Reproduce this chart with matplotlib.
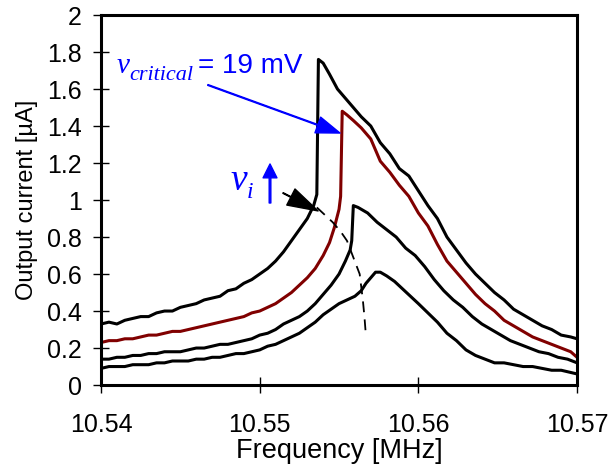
"""Resonator output current vs frequency near the critical drive."""

import matplotlib

matplotlib.use("Agg")
import matplotlib.pyplot as plt

plt.rcParams["font.family"] = ["Liberation Sans", "DejaVu Sans"]

# top curve (largest drive)
f1 = [10.5400, 10.5405, 10.5410, 10.5415, 10.5420, 10.5425, 10.5430, 10.5435, 10.5440, 10.5445,
      10.5450, 10.5455, 10.5460, 10.5465, 10.5470, 10.5475, 10.5480, 10.5485, 10.5490, 10.5495,
      10.5500, 10.5505, 10.5510, 10.5515, 10.5520, 10.5525, 10.5530, 10.5534, 10.5536, 10.5537,
      10.5540, 10.5544, 10.5549, 10.5554, 10.5559, 10.5564, 10.5570, 10.5576, 10.5582, 10.5588,
      10.5594, 10.5600, 10.5606, 10.5612, 10.5618, 10.5624, 10.5630, 10.5636, 10.5642, 10.5648,
      10.5654, 10.5660, 10.5666, 10.5672, 10.5678, 10.5684, 10.5690, 10.5696, 10.5700]
i1 = [0.33, 0.34, 0.33, 0.35, 0.36, 0.37, 0.37, 0.39, 0.40, 0.40,
      0.42, 0.43, 0.44, 0.46, 0.47, 0.48, 0.51, 0.52, 0.55, 0.57,
      0.60, 0.63, 0.67, 0.72, 0.78, 0.84, 0.90, 0.97, 1.03, 1.76,
      1.74, 1.68, 1.60, 1.55, 1.50, 1.45, 1.40, 1.31, 1.25, 1.17,
      1.13, 1.05, 0.97, 0.90, 0.80, 0.73, 0.66, 0.60, 0.55, 0.50,
      0.46, 0.41, 0.38, 0.35, 0.32, 0.30, 0.27, 0.26, 0.25]

# critical drive (red)
f2 = [10.5400, 10.5405, 10.5410, 10.5415, 10.5420, 10.5425, 10.5430, 10.5435, 10.5440, 10.5445,
      10.5450, 10.5455, 10.5460, 10.5465, 10.5470, 10.5475, 10.5480, 10.5485, 10.5490, 10.5495,
      10.5500, 10.5505, 10.5510, 10.5515, 10.5520, 10.5525, 10.5530, 10.5535, 10.5540, 10.5544,
      10.5547, 10.5550, 10.5551, 10.5552, 10.5555, 10.5559, 10.5564, 10.5570, 10.5576, 10.5582,
      10.5588, 10.5594, 10.5600, 10.5606, 10.5612, 10.5618, 10.5624, 10.5630, 10.5636, 10.5642,
      10.5648, 10.5654, 10.5660, 10.5666, 10.5672, 10.5678, 10.5684, 10.5690, 10.5696, 10.5700]
i2 = [0.23, 0.24, 0.24, 0.25, 0.25, 0.26, 0.27, 0.27, 0.28, 0.29,
      0.29, 0.30, 0.31, 0.32, 0.33, 0.34, 0.35, 0.36, 0.37, 0.39,
      0.40, 0.42, 0.44, 0.47, 0.50, 0.54, 0.58, 0.63, 0.70, 0.77,
      0.85, 0.95, 1.02, 1.48, 1.46, 1.43, 1.39, 1.33, 1.21, 1.15,
      1.08, 1.02, 0.93, 0.86, 0.76, 0.67, 0.61, 0.55, 0.49, 0.44,
      0.40, 0.35, 0.32, 0.29, 0.26, 0.24, 0.22, 0.20, 0.18, 0.15]

f3 = [10.5400, 10.5405, 10.5410, 10.5415, 10.5420, 10.5425, 10.5430, 10.5435, 10.5440, 10.5445,
      10.5450, 10.5455, 10.5460, 10.5465, 10.5470, 10.5475, 10.5480, 10.5485, 10.5490, 10.5495,
      10.5500, 10.5505, 10.5510, 10.5515, 10.5520, 10.5525, 10.5530, 10.5535, 10.5540, 10.5545,
      10.5550, 10.5554, 10.5557, 10.5558, 10.5559, 10.5562, 10.5568, 10.5574, 10.5580, 10.5586,
      10.5592, 10.5598, 10.5604, 10.5610, 10.5616, 10.5622, 10.5628, 10.5634, 10.5640, 10.5646,
      10.5652, 10.5658, 10.5664, 10.5670, 10.5676, 10.5682, 10.5688, 10.5694, 10.5700]
i3 = [0.14, 0.14, 0.15, 0.15, 0.16, 0.16, 0.17, 0.17, 0.18, 0.18,
      0.18, 0.19, 0.20, 0.20, 0.21, 0.22, 0.22, 0.23, 0.24, 0.25,
      0.27, 0.28, 0.30, 0.33, 0.35, 0.37, 0.40, 0.44, 0.49, 0.54,
      0.60, 0.67, 0.73, 0.78, 0.97, 0.96, 0.93, 0.88, 0.84, 0.80,
      0.74, 0.70, 0.64, 0.57, 0.51, 0.46, 0.42, 0.37, 0.33, 0.30,
      0.27, 0.24, 0.22, 0.20, 0.18, 0.17, 0.15, 0.14, 0.12]

f4 = [10.5400, 10.5405, 10.5410, 10.5415, 10.5420, 10.5425, 10.5430, 10.5435, 10.5440, 10.5445,
      10.5450, 10.5455, 10.5460, 10.5465, 10.5470, 10.5475, 10.5480, 10.5485, 10.5490, 10.5495,
      10.5500, 10.5505, 10.5510, 10.5515, 10.5520, 10.5525, 10.5530, 10.5535, 10.5540, 10.5545,
      10.5550, 10.5555, 10.5560, 10.5564, 10.5567, 10.5570, 10.5573, 10.5576, 10.5580, 10.5585,
      10.5590, 10.5595, 10.5600, 10.5606, 10.5612, 10.5618, 10.5624, 10.5630, 10.5636, 10.5642,
      10.5648, 10.5654, 10.5660, 10.5666, 10.5672, 10.5678, 10.5684, 10.5690, 10.5695, 10.5700]
i4 = [0.09, 0.10, 0.10, 0.10, 0.11, 0.11, 0.11, 0.12, 0.12, 0.13,
      0.13, 0.13, 0.14, 0.14, 0.15, 0.15, 0.16, 0.17, 0.17, 0.18,
      0.19, 0.21, 0.22, 0.24, 0.26, 0.28, 0.31, 0.34, 0.38, 0.41,
      0.44, 0.46, 0.48, 0.51, 0.55, 0.58, 0.61, 0.61, 0.59, 0.56,
      0.52, 0.48, 0.44, 0.39, 0.34, 0.28, 0.24, 0.19, 0.16, 0.14,
      0.12, 0.12, 0.11, 0.10, 0.10, 0.09, 0.08, 0.08, 0.07, 0.06]

# backbone (dashed)
fb = [10.5536, 10.5541, 10.5546, 10.5551, 10.5555, 10.5559, 10.5563, 10.5565, 10.5566, 10.5567]
ib = [0.96, 0.92, 0.88, 0.83, 0.78, 0.69, 0.60, 0.46, 0.37, 0.26]

xticks = [10.54, 10.55, 10.56, 10.57]
yticks = [0, 0.2, 0.4, 0.6, 0.8, 1, 1.2, 1.4, 1.6, 1.8, 2]

fig = plt.figure(figsize=(6.1, 4.69), dpi=100)
ax = fig.add_axes([0.1656, 0.179, 0.7804, 0.789])

lw = 2.2
ax.plot(f4, i4, color="black", lw=lw)
ax.plot(f3, i3, color="black", lw=lw)
ax.plot(f2, i2, color="#800000", lw=lw)
ax.plot(f1, i1, color="black", lw=lw)
ax.plot(fb, ib, color="black", lw=1.3, dashes=(6, 4))

ax.set_xlim(10.54, 10.57)
ax.set_ylim(0, 2)
ax.set_xticks(xticks)
ax.set_xticklabels([f"{v:.2f}" for v in xticks])
ax.set_yticks(yticks)
ax.set_yticklabels([f"{v:g}" for v in yticks])
ax.tick_params(direction="inout", length=12, width=1, labelsize=18)
ax.tick_params(axis="x", pad=14)
ax.tick_params(axis="y", pad=8)
for s in ax.spines.values():
    s.set_linewidth(2.2)

ax.set_xlabel("Frequency [MHz]", fontsize=19.5, labelpad=1)
ax.set_ylabel("Output current [µA]", fontsize=17, labelpad=6)

serif = ["Liberation Serif", "DejaVu Serif"]
blue = "#0000ff"
# v_critical = 19 mV
ax.text(10.54101, 1.686, "v", color=blue, fontsize=21, style="italic",
        family=serif, va="baseline")
ax.text(10.54176, 1.649, "critical", color=blue, fontsize=16, style="italic",
        family=serif, va="baseline")
ax.text(10.54611, 1.686, "= 19 mV", color=blue, fontsize=20, va="baseline")
ax.annotate("", xy=(10.55506, 1.362), xytext=(10.54673, 1.622),
            arrowprops=dict(facecolor=blue, edgecolor=blue, width=0.6,
                            headwidth=12, headlength=17, shrink=0))

# v_i
ax.text(10.54813, 1.054, "v", color=blue, fontsize=27, style="italic",
        family=serif, va="baseline")
ax.text(10.5492, 1.011, "i", color=blue, fontsize=17, style="italic",
        family=serif, va="baseline")
ax.annotate("", xy=(10.55065, 1.195), xytext=(10.55065, 0.984),
            arrowprops=dict(facecolor=blue, edgecolor=blue, width=1.2,
                            headwidth=10, headlength=10, shrink=0))

ax.annotate("", xy=(10.55368, 0.941), xytext=(10.55147, 1.038),
            arrowprops=dict(facecolor="black", edgecolor="black", width=0.5,
                            headwidth=13, headlength=22, shrink=0))

fig.savefig("out.png", dpi=100)
